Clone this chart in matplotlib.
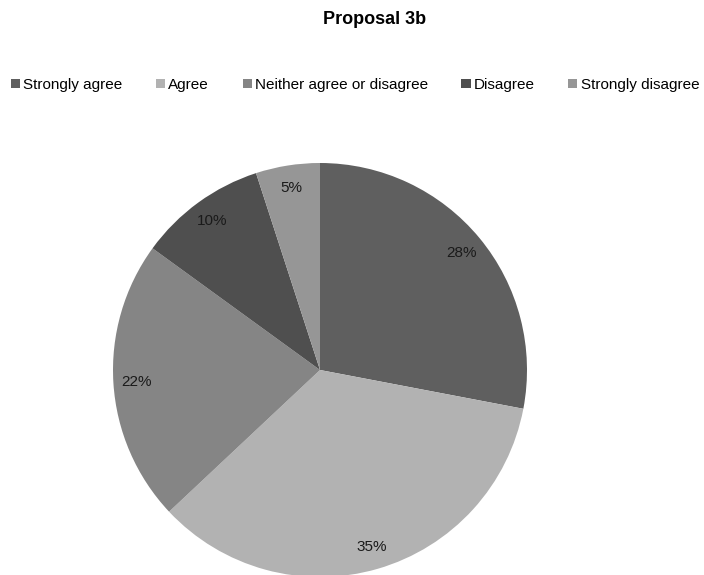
import matplotlib.pyplot as plt
from matplotlib.patches import Patch

# Survey answers for proposal 3b
categories = ['Strongly agree', 'Agree', 'Neither agree or disagree', 'Disagree', 'Strongly disagree']
shares = [28, 35, 22, 10, 5]
colors = ['#5f5f5f', '#b2b2b2', '#858585', '#4f4f4f', '#969696']

plt.rcParams['font.family'] = ['Liberation Sans', 'DejaVu Sans']

fig = plt.figure(figsize=(7.04, 5.75), dpi=100)

# pie centre at (320, 370) px, radius 207 px
ax = fig.add_axes([113 / 704, -2 / 575, 414 / 704, 414 / 575])
ax.pie(shares, colors=colors, startangle=90, counterclock=False,
       autopct='%d%%', pctdistance=0.89, radius=1,
       textprops={'fontsize': 11, 'color': '#1a1a1a'})
ax.set_xlim(-1, 1)
ax.set_ylim(-1, 1)
ax.set_aspect('auto')
ax.axis('off')

fig.text(375 / 704, 1 - 20 / 575, 'Proposal 3b', ha='center', va='center',
         fontsize=13, fontweight='bold')

handles = [Patch(facecolor=c, edgecolor='none') for c in colors]
fig.legend(handles, categories, loc='center', bbox_to_anchor=(355 / 704, 1 - 85 / 575),
           ncol=5, frameon=False, fontsize=11, handlelength=0.6, handleheight=0.6,
           handletextpad=0.2, columnspacing=2.2, borderaxespad=0, borderpad=0)

fig.savefig('out.png', dpi=100)
